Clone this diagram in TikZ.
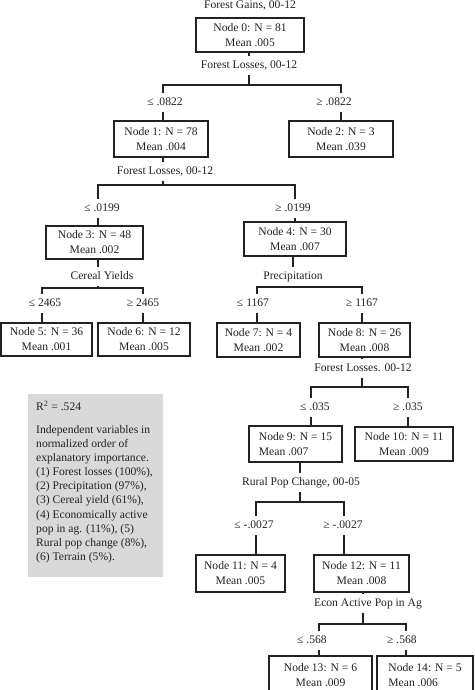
\documentclass[tikz,border=0pt]{standalone}
\usepackage{fontspec}
\setmainfont{Liberation Serif}
\definecolor{ink}{HTML}{222222}
\definecolor{legendgray}{HTML}{D9D9D9}
\begin{document}
\begin{tikzpicture}[x=1pt,y=-1pt,
  box/.style={draw=ink, line width=1.8pt, rectangle, inner sep=0pt, align=center,
    font=\fontsize{11.6}{15}\selectfont, text=ink},
  boxl/.style={box, align=left},
  conn/.style={draw=ink, line width=1.8pt},
  lab/.style={fill=white, inner xsep=1pt, inner ysep=4pt, text height=8.5pt, text depth=2.5pt,
    font=\fontsize{11.6}{14}\selectfont, text=ink},
  legtext/.style={inner sep=0pt, align=left, font=\fontsize{11.6}{14.1}\selectfont, text=ink},
]
\useasboundingbox (0,0) rectangle (474,690);

% legend
\node[fill=legendgray, minimum width=135pt, minimum height=183pt, inner sep=0pt] (legend) at (95.5,485.5) {};
\node[legtext, anchor=north west] (legendtext) at (36,400.5)
  {R\textsuperscript{2} = .524\\[8.9pt]
   Independent variables in\\
   normalized order of\\
   explanatory importance.\\
   (1) Forest losses (100\%),\\
   (2) Precipitation (97\%),\\
   (3) Cereal yield (61\%),\\
   (4) Economically active\\
   pop in ag. (11\%), (5)\\
   Rural pop change (8\%),\\
   (6) Terrain (5\%).};

% boxes
\node[box, minimum width=108pt, minimum height=34pt] (n0) at (250,35) {Node 0: N = 81\\Mean .005};
\node[box, minimum width=94pt, minimum height=36pt] (n1) at (161,139) {Node 1: N = 78\\Mean .004};
\node[box, minimum width=104pt, minimum height=36pt] (n2) at (341,139) {Node 2: N = 3\\Mean .039};
\node[box, minimum width=97pt, minimum height=33pt] (n3) at (94.5,242.5) {Node 3: N = 48\\Mean .002};
\node[box, minimum width=102pt, minimum height=34pt] (n4) at (295,239) {Node 4: N = 30\\Mean .007};
\node[box, minimum width=91pt, minimum height=33pt] (n5) at (46.5,339.5) {Node 5: N = 36\\Mean .001};
\node[box, minimum width=92pt, minimum height=33pt] (n6) at (144,339.5) {Node 6: N = 12\\Mean .005};
\node[box, minimum width=83pt, minimum height=34pt] (n7) at (258.5,340) {Node 7: N = 4\\Mean .002};
\node[box, minimum width=91pt, minimum height=34pt] (n8) at (364.5,340) {Node 8: N = 26\\Mean .008};
\node[boxl, minimum width=93pt, minimum height=36pt] (n9) at (295.5,444) {Node 9: N = 15\\Mean .007};
\node[box, minimum width=98pt, minimum height=34pt] (n10) at (404,444) {Node 10: N = 11\\Mean .009};
\node[box, minimum width=89pt, minimum height=37pt] (n11) at (240.5,573.5) {Node 11: N = 4\\Mean .005};
\node[box, minimum width=95pt, minimum height=37pt] (n12) at (361.5,573.5) {Node 12: N = 11\\Mean .008};
\node[box, minimum width=103pt, minimum height=38pt] (n13) at (320.5,675) {Node 13: N = 6\\Mean .009};
\node[boxl, minimum width=96pt, minimum height=38pt] (n14) at (425,675) {Node 14: N = 5\\Mean .006};

% junctions
\coordinate (j0) at (249,85);  \coordinate (j0l) at (163,85);  \coordinate (j0r) at (341,85);
\coordinate (j1) at (163,185); \coordinate (j1l) at (98,185);  \coordinate (j1r) at (295,185);
\coordinate (j3) at (98,288);  \coordinate (j3l) at (42,288);  \coordinate (j3r) at (143,288);
\coordinate (j4) at (293,287); \coordinate (j4l) at (257,287); \coordinate (j4r) at (362,287);
\coordinate (j8) at (362,387); \coordinate (j8l) at (311,387); \coordinate (j8r) at (408,387);
\coordinate (j9) at (300,502); \coordinate (j9l) at (256,502); \coordinate (j9r) at (344,502);
\coordinate (j12) at (363,624); \coordinate (j12l) at (319,624); \coordinate (j12r) at (406,624);

% connectors
\draw[conn] (n0.south -| j0) -- (j0);
\draw[conn] (n1.north -| j0l) |- (j0r) -- (n2.north -| j0r);
\draw[conn] (n1.south -| j1) -- (j1);
\draw[conn] (n3.north -| j1l) |- (j1r) -- (n4.north -| j1r);
\draw[conn] (n3.south -| j3) -- (j3);
\draw[conn] (n5.north -| j3l) |- (j3r) -- (n6.north -| j3r);
\draw[conn] (n4.south -| j4) -- (j4);
\draw[conn] (n7.north -| j4l) |- (j4r) -- (n8.north -| j4r);
\draw[conn] (n8.south -| j8) -- (j8);
\draw[conn] (n9.north -| j8l) |- (j8r) -- (n10.north -| j8r);
\draw[conn] (n9.south -| j9) -- (j9);
\draw[conn] (n11.north -| j9l) |- (j9r) -- (n12.north -| j9r);
\draw[conn] (n12.south -| j12) -- (j12);
\draw[conn] (n13.north -| j12l) |- (j12r) -- (n14.north -| j12r);

% labels
\node[lab] (t0) at (250,6) {Forest Gains, 00-12};
\node[lab] (s0) at (249,66) {Forest Losses, 00-12};
\node[lab] (c1) at (165,103) {≤ .0822};
\node[lab] (c2) at (334,103) {≥ .0822};
\node[lab] (s1) at (165,171) {Forest Losses, 00-12};
\node[lab] (c3) at (102,208) {≤ .0199};
\node[lab] (c4) at (293,208) {≥ .0199};
\node[lab] (s3) at (102,276) {Cereal Yields};
\node[lab] (c5) at (45,303) {≤ 2465};
\node[lab] (c6) at (143,303) {≥ 2465};
\node[lab] (s4) at (293,276) {Precipitation};
\node[lab] (c7) at (253,303) {≤ 1167};
\node[lab] (c8) at (362,303) {≥ 1167};
\node[lab] (s8) at (363,368) {Forest Losses. 00-12};
\node[lab] (c9) at (315,407) {≤ .035};
\node[lab] (c10) at (408,407) {≥ .035};
\node[lab] (s9) at (301,482) {Rural Pop Change, 00-05};
\node[lab] (c11) at (254,525) {≤ -.0027};
\node[lab] (c12) at (343,525) {≥ -.0027};
\node[lab] (s12) at (368,603) {Econ Active Pop in Ag};
\node[lab] (c13) at (312,640) {≤ .568};
\node[lab] (c14) at (402,640) {≥ .568};
\end{tikzpicture}
\end{document}
